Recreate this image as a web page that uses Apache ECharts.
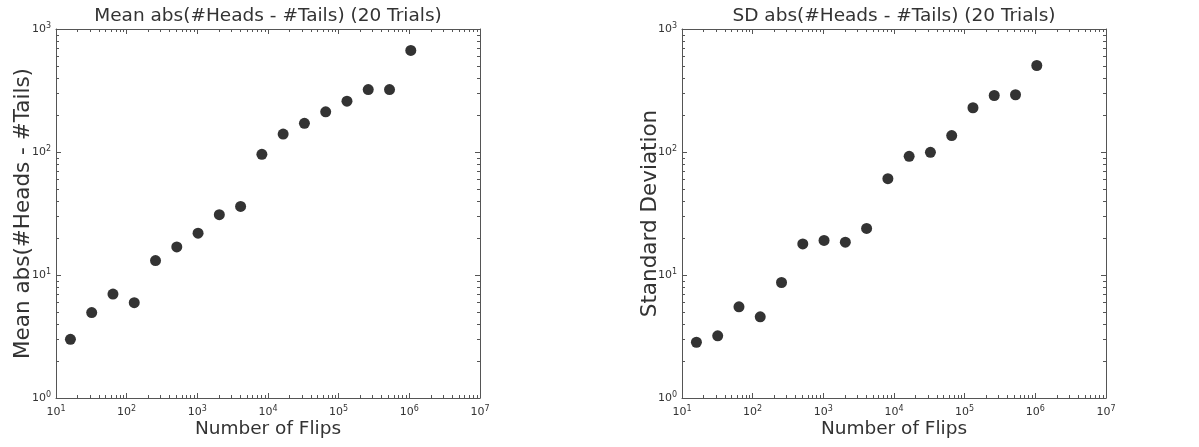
<!DOCTYPE html>
<html>
<head>
<meta charset="utf-8">
<script src="https://cdn.jsdelivr.net/npm/echarts@6/dist/echarts.min.js"></script>
<style>
html,body{margin:0;padding:0;background:#fff;}
#chart{width:1199px;height:447px;}
</style>
</head>
<body>
<div id="chart"></div>
<script>
// ---- data ----
const flips = [16, 32, 64, 128, 256, 512, 1024, 2048, 4096, 8192, 16384, 32768, 65536, 131072, 262144, 524288, 1048576];
const meanVals = [3.0, 4.95, 7.0, 5.95, 13.1, 16.9, 21.9, 30.9, 36.1, 95.8, 140, 171, 212, 259, 322, 322, 670];
const sdVals = [2.84, 3.20, 5.51, 4.57, 8.69, 17.9, 19.1, 18.5, 23.9, 60.7, 92.3, 99.5, 136, 229, 288, 292, 505];
const titles = ['Mean abs(#Heads - #Tails) (20 Trials)', 'SD abs(#Heads - #Tails) (20 Trials)'];
const xLabel = 'Number of Flips';
const yLabels = ['Mean abs(#Heads - #Tails)', 'Standard Deviation'];
const xRange = [10, 1e7];
const yRange = [1, 1000];

// ---- styling ----
const FONT = 'DejaVu Sans';
const TXT = '#333333';
const FRAME = '#555555';
const MARK = '#333333';

function minorTicks(lo, hi) {
  const out = [];
  for (let d = lo; d < hi; d *= 10) {
    for (let m = 2; m <= 9; m++) out.push(m * d);
  }
  return out;
}
const xMinor = minorTicks(xRange[0], xRange[1]);
const yMinor = minorTicks(yRange[0], yRange[1]);

function tickData() {
  const data = [];
  xMinor.forEach(v => { data.push([v, yRange[0], 0]); data.push([v, yRange[1], 1]); });
  yMinor.forEach(v => { data.push([xRange[0], v, 2]); data.push([xRange[1], v, 3]); });
  return data;
}

function renderTick(params, api) {
  const p = api.coord([api.value(0), api.value(1)]);
  const side = api.value(2);
  const L = 3;
  let x1 = p[0], y1 = p[1], x2 = p[0], y2 = p[1];
  if (side === 0 || side === 1) { x1 = x2 = Math.round(p[0]) + 0.5; }
  else { y1 = y2 = Math.round(p[1]) + 0.5; }
  if (side === 0) y2 = y1 - L;
  else if (side === 1) y2 = y1 + L;
  else if (side === 2) x2 = x1 + L;
  else x2 = x1 - L;
  return {type: 'line', shape: {x1, y1, x2, y2}, style: {stroke: FRAME, lineWidth: 1}};
}

const expFmt = v => '{b|10}{s|' + Math.round(Math.log10(v)) + '}';
const richLbl = {
  b: {fontSize: 11, fontFamily: FONT, color: TXT, lineHeight: 14},
  s: {fontSize: 8, fontFamily: FONT, color: TXT, verticalAlign: 'top', lineHeight: 9}
};

const grids = [
  {left: 56, top: 29, width: 424, height: 369},
  {left: 682, top: 29, width: 424, height: 369}
];

const xAxes = [], yAxes = [], series = [];
const lineStyle = {color: FRAME, width: 1};
[0, 1].forEach(g => {
  const base = {type: 'log', logBase: 10, gridIndex: g, splitLine: {show: false},
    axisLine: {show: true, onZero: false, lineStyle}, axisTick: {show: true, inside: true, length: 5, lineStyle}};
  xAxes.push(Object.assign({}, base, {
    min: xRange[0], max: xRange[1], position: 'bottom',
    name: xLabel, nameLocation: 'middle', nameGap: 22, nameMoveOverlap: false,
    nameTextStyle: {fontFamily: FONT, fontSize: 18.5, color: TXT},
    axisLabel: {formatter: expFmt, rich: richLbl, margin: 7}
  }));
  xAxes.push(Object.assign({}, base, {
    min: xRange[0], max: xRange[1], position: 'top',
    name: titles[g], nameLocation: 'middle', nameGap: 3, nameMoveOverlap: false,
    nameTextStyle: {fontFamily: FONT, fontSize: 18.5, color: TXT},
    axisLabel: {show: false}
  }));
  yAxes.push(Object.assign({}, base, {
    min: yRange[0], max: yRange[1], position: 'left',
    name: yLabels[g], nameLocation: 'middle', nameGap: g === 0 ? 22 : 21, nameMoveOverlap: false,
    nameTextStyle: {fontFamily: FONT, fontSize: 21.5, color: TXT},
    axisLabel: {formatter: expFmt, rich: richLbl, margin: 5}
  }));
  yAxes.push(Object.assign({}, base, {
    min: yRange[0], max: yRange[1], position: 'right',
    axisLabel: {show: false}
  }));
  series.push({
    type: 'scatter', xAxisIndex: g * 2, yAxisIndex: g * 2,
    data: flips.map((f, i) => [f, g === 0 ? meanVals[i] : sdVals[i]]),
    symbol: 'circle', symbolSize: 11,
    itemStyle: {color: MARK, opacity: 1},
    silent: true, animation: false
  });
  series.push({
    type: 'custom', xAxisIndex: g * 2, yAxisIndex: g * 2,
    data: tickData(), encode: {x: 0, y: 1},
    renderItem: renderTick, clip: false, silent: true, animation: false, z: 1
  });
});

const chart = echarts.init(document.getElementById('chart'), null, {renderer: 'canvas'});
chart.setOption({
  animation: false,
  backgroundColor: '#ffffff',
  textStyle: {fontFamily: FONT},
  grid: grids,
  xAxis: xAxes,
  yAxis: yAxes,
  series: series
});
</script>
</body>
</html>
